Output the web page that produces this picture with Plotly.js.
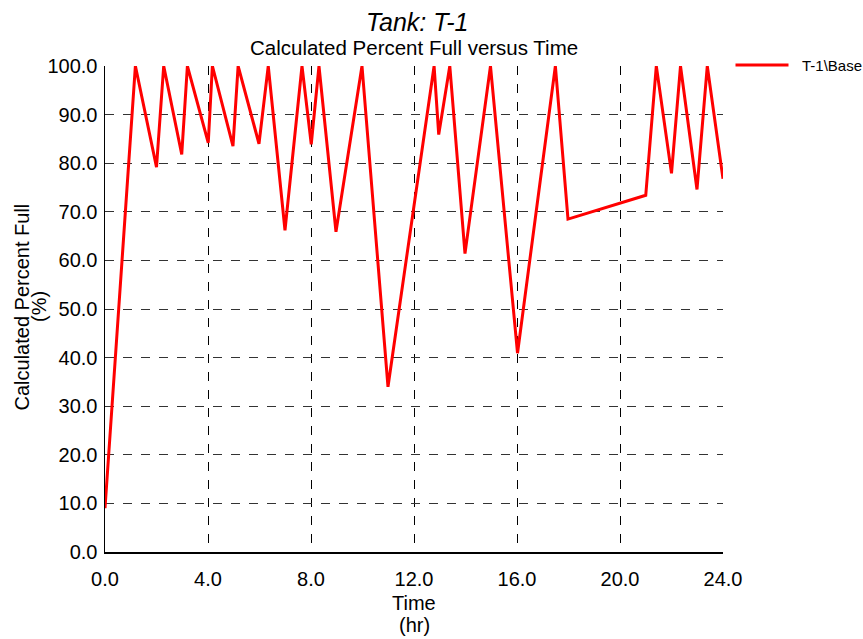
<!DOCTYPE html>
<html>
<head>
<meta charset="utf-8">
<script src="https://cdn.plot.ly/plotly-3.0.1.min.js"></script>
<style>html,body{margin:0;padding:0;background:#fff;}#chart{width:863px;height:639px;}</style>
</head>
<body>
<div id="chart"></div>
<script>
const timeHr = [0.0, 1.18, 2.0, 2.28, 2.98, 3.2, 4.01, 4.17, 4.97, 5.17, 5.98, 6.34, 6.99, 7.65, 8.01, 8.31, 8.97, 9.98, 10.99, 12.78, 12.96, 13.39, 13.98, 14.97, 16.02, 17.49, 17.98, 21.0, 21.41, 22.0, 22.35, 22.99, 23.39, 24.0];
const percentFull = [9.0, 100, 79.2, 100, 81.8, 100, 84.2, 100, 83.5, 100, 84.0, 100, 66.2, 100, 83.9, 100, 65.9, 100, 34.0, 100, 85.9, 100, 61.4, 100, 40.9, 100, 68.5, 73.4, 100, 77.9, 100, 74.6, 100, 76.8];
const seriesName = "T-1\\Base";
const xTicks = [0, 4, 8, 12, 16, 20, 24];
const xTickText = ["0.0", "4.0", "8.0", "12.0", "16.0", "20.0", "24.0"];
const yTicks = [0, 10, 20, 30, 40, 50, 60, 70, 80, 90, 100];
const yTickText = ["0.0", "10.0", "20.0", "30.0", "40.0", "50.0", "60.0", "70.0", "80.0", "90.0", "100.0"];
const chartTitle = "Tank: T-1";
const chartSubtitle = "Calculated Percent Full versus Time";
const xTitleLines = ["Time", "(hr)"];
const yTitleLines = ["Calculated Percent Full", "(%)"];

const font = "Liberation Sans, Arial, sans-serif";
const trace = {
  x: timeHr, y: percentFull, type: "scatter", mode: "lines", name: seriesName,
  line: {color: "#ff0000", width: 3}, showlegend: false
};
function ann(text, x, y, xs, ys, size, extra) {
  return Object.assign({text: text, xref: "paper", yref: "paper", x: x, y: y, xshift: xs, yshift: ys,
    xanchor: "center", yanchor: "middle", showarrow: false, font: {size: size}}, extra || {});
}
const layout = {
  width: 863, height: 639,
  margin: {l: 105, r: 139.5, t: 65.5, b: 86.5},
  paper_bgcolor: "#fff", plot_bgcolor: "#fff",
  font: {family: font, color: "#000", size: 20},
  showlegend: false,
  xaxis: {
    range: [0, 24], tickvals: xTicks, ticktext: xTickText,
    showgrid: true, gridcolor: "#000", griddash: "dash", gridwidth: 1,
    showline: true, linecolor: "#000", linewidth: 1.5, zeroline: false, ticks: "",
    tickfont: {size: 20}, ticklabelstandoff: 8
  },
  yaxis: {
    range: [0, 100], tickvals: yTicks, ticktext: yTickText,
    showgrid: true, gridcolor: "#333", griddash: "dash", gridwidth: 1,
    showline: true, linecolor: "#000", linewidth: 1.5, zeroline: false, ticks: "",
    tickfont: {size: 20}, ticklabelstandoff: 2
  },
  shapes: [
    // legend sample line, in pixels relative to the plot's top-right corner
    {type: "line", xref: "paper", yref: "paper", xsizemode: "pixel", ysizemode: "pixel",
     xanchor: 1, yanchor: 1, x0: 12.5, x1: 65.5, y0: 1, y1: 1, line: {color: "#ff0000", width: 3}}
  ],
  annotations: [
    ann("<i>" + chartTitle + "</i>", 0.5, 1, 3, 44.5, 25),
    ann(chartSubtitle, 0.5, 1, 0, 18.5, 20.5),
    ann(xTitleLines[0], 0.5, 0, 0, -50.5, 20),
    ann(xTitleLines[1], 0.5, 0, 0, -72.5, 20),
    ann(yTitleLines[0], 0, 0.5, -83.5, 2, 20, {textangle: -90}),
    ann(yTitleLines[1], 0, 0.5, -66, 2, 20, {textangle: -90}),
    ann(seriesName, 1, 1, 77, 1, 15, {xanchor: "left"})
  ]
};
Plotly.newPlot("chart", [trace], layout, {displayModeBar: false, staticPlot: true});
</script>
</body>
</html>
